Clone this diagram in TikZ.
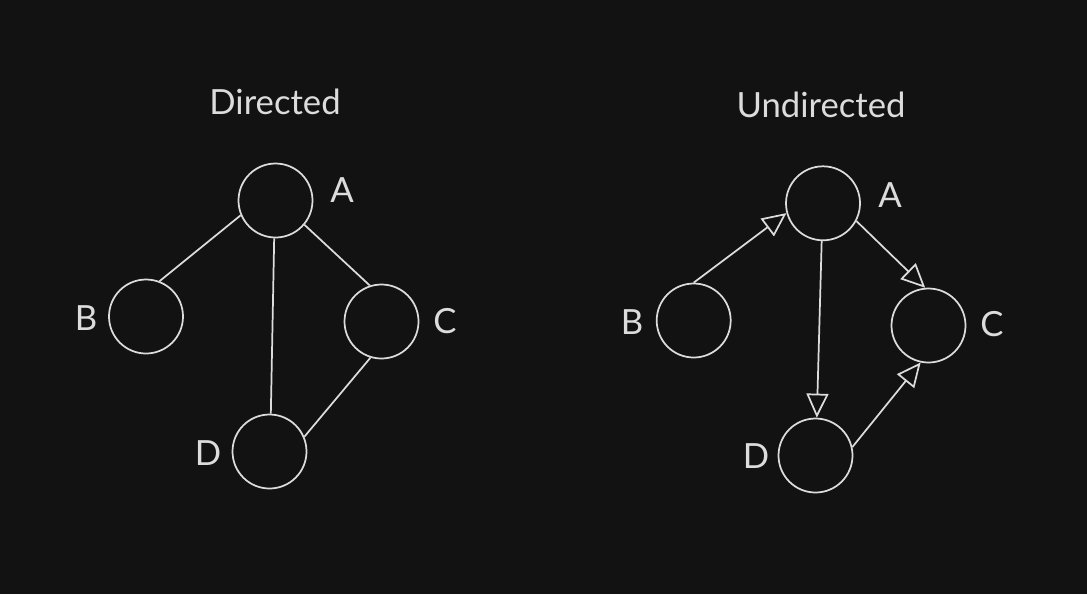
\documentclass[tikz,border=0pt]{standalone}
\usepackage{fontspec}
\setmainfont{Lato}
\usetikzlibrary{arrows.meta}
\definecolor{fundo}{HTML}{121212}
\definecolor{traco}{HTML}{DCDCDC}
\begin{document}
\begin{tikzpicture}[x=0.75pt,y=-0.75pt,
	vertice/.style={circle, draw=traco, line width=1.3pt, minimum size=55.5pt, inner sep=0pt},
	rotulo/.style={text=traco, font=\fontsize{26}{31}\selectfont},
	aresta/.style={draw=traco, line width=1.3pt},
	seta/.style={aresta, -{Triangle[open, length=18pt, width=16.5pt]}}]
	%Fundo
	\fill[fundo] (0,0) rectangle (1087,594);
	\useasboundingbox (0,0) rectangle (1087,594);
		%Grafo da esquerda
	\node[rotulo] (tituloE) at (275,102) {Directed};
	\node[vertice] (eA) at (275.5,200.5) {};
	\node[vertice] (eB) at (146,316.5) {};
	\node[vertice] (eC) at (381.5,321.5) {};
	\node[vertice] (eD) at (269.5,451.5) {};
	\node[rotulo] (rotEA) at (342,190) {A};
	\node[rotulo] (rotEB) at (86,318) {B};
	\node[rotulo] (rotEC) at (445,321) {C};
	\node[rotulo] (rotED) at (208,453) {D};
	\draw[aresta] (eA.203) -- (eB.69);
	\draw[aresta] (eA.320) -- (eC.108);
	\draw[aresta] (eA.268) -- (eD.88);
	\draw[aresta] (eC.253) -- (eD.23);
		%Grafo da direita
	\node[rotulo] (tituloD) at (821,105) {Undirected};
	\node[vertice] (dA) at (823,203.3) {};
	\node[vertice] (dB) at (693.7,320.5) {};
	\node[vertice] (dC) at (928.5,325.5) {};
	\node[vertice] (dD) at (815.5,455.5) {};
	\node[rotulo] (rotDA) at (890,195) {A};
	\node[rotulo] (rotDB) at (632,322) {B};
	\node[rotulo] (rotDC) at (992,324) {C};
	\node[rotulo] (rotDD) at (756,456) {D};
	\draw[seta] (dB.90) -- (dA.195);
	\draw[seta] (dA.332) -- (dC.95);
	\draw[seta] (dA.268) -- (dD.88);
	\draw[seta] (dD.13) -- (dC.258); %Seta de D para C
\end{tikzpicture}
\end{document}
